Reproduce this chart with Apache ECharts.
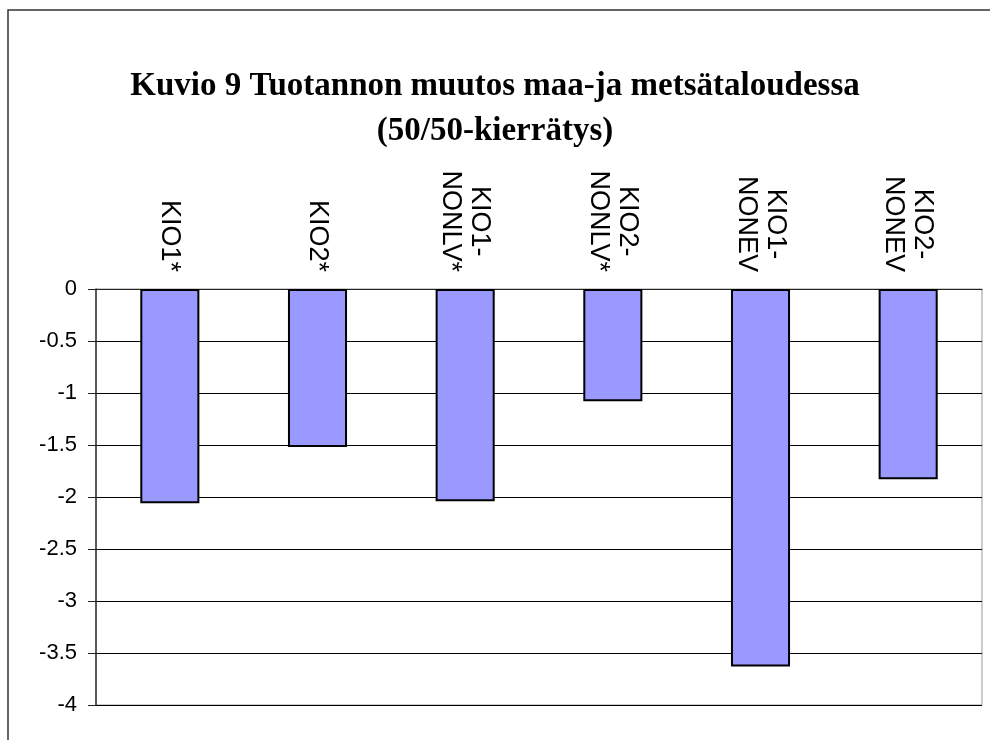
<!DOCTYPE html>
<html>
<head>
<meta charset="utf-8">
<script src="https://cdn.jsdelivr.net/npm/echarts@6/dist/echarts.min.js"></script>
<style>
    html, body { margin: 0; padding: 0; background: #fff; }
    #chart { width: 990px; height: 740px; }
</style>
</head>
<body>
<div id="chart"></div>
<script>
// data
const categories = ['KIO1*', 'KIO2*', 'KIO1-\nNONLV*', 'KIO2-\nNONLV*', 'KIO1-\nNONEV', 'KIO2-\nNONEV'];
const values = [-2.06, -1.52, -2.04, -1.08, -3.63, -1.83];
const yMin = -4;
const yMax = 0;
const yStep = 0.5;

const chart = echarts.init(document.getElementById('chart'));

// center each line inside the rotated label block
function centerLines(label) {
    return label.split('\n').map(function (s) { return '{c|' + s + '}'; }).join('\n');
}

const option = {
    backgroundColor: '#fff',
    animation: false,
    title: {
        text: 'Kuvio 9 Tuotannon muutos maa-ja metsätaloudessa\n(50/50-kierrätys)',
        left: 'center',
        top: 59,
        textStyle: {
            fontFamily: 'Liberation Serif',
            fontWeight: 'bold',
            fontSize: 33,
            lineHeight: 45,
            color: '#000'
        }
    },
    graphic: [{
        type: 'rect',
        shape: { x: 8, y: 10, width: 1100, height: 1000 },
        style: { fill: 'none', stroke: '#333', lineWidth: 1.5 },
        silent: true
    }],
    grid: {
        left: 96,
        right: 8,
        top: 289,
        bottom: 35,
        show: true,
        borderColor: '#999',
        borderWidth: 1
    },
    xAxis: {
        type: 'category',
        position: 'top',
        data: categories,
        axisLine: { lineStyle: { color: '#222', width: 1 } },
        axisTick: { inside: true, length: 8, lineStyle: { color: '#222' } },
        axisLabel: {
            rotate: -90,
            margin: 17,
            interval: 0,
            fontFamily: 'Liberation Sans',
            fontSize: 27,
            lineHeight: 29,
            color: '#000',
            formatter: centerLines,
            rich: {
                c: {
                    align: 'center',
                    fontFamily: 'Liberation Sans',
                    fontSize: 27,
                    lineHeight: 29,
                    color: '#000'
                }
            }
        },
        splitLine: { show: false }
    },
    yAxis: {
        type: 'value',
        min: yMin,
        max: yMax,
        interval: yStep,
        axisLine: { show: true, lineStyle: { color: '#333', width: 1.5 } },
        axisTick: { show: true, length: 8, lineStyle: { color: '#222' } },
        axisLabel: {
            margin: 19,
            fontFamily: 'Liberation Sans',
            fontSize: 22,
            color: '#000'
        },
        splitLine: { show: true, lineStyle: { color: '#000', width: 1 } }
    },
    series: [{
        type: 'bar',
        data: values,
        barWidth: '40%',
        itemStyle: {
            color: '#9999FF',
            borderColor: '#000',
            borderWidth: 2
        }
    }]
};

chart.setOption(option);
</script>
</body>
</html>
